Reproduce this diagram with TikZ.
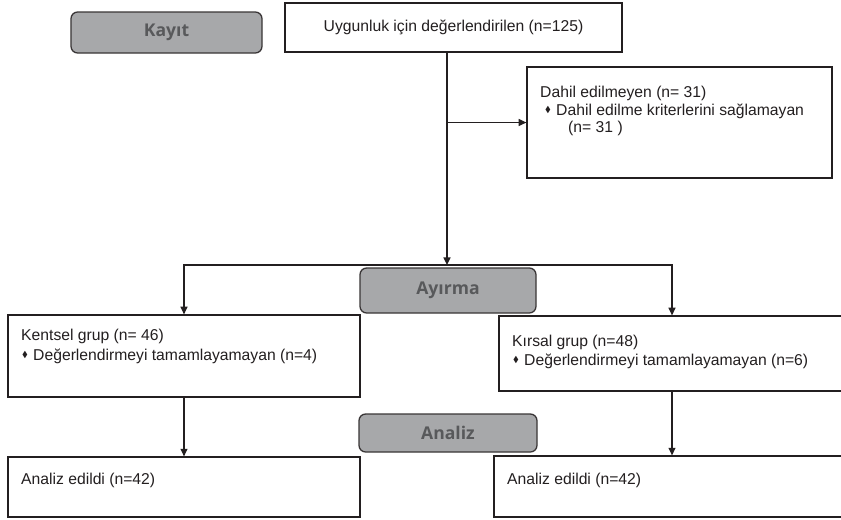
\documentclass[tikz,border=0pt]{standalone}
\usepackage{amssymb}
\usepackage{fontspec}
\setmainfont{Liberation Sans}
\newfontfamily\stagefont{Open Sans}
\usetikzlibrary{arrows.meta}
\usetikzlibrary{positioning}

\definecolor{stagegray}{HTML}{A7A8AA}
\definecolor{stagetext}{HTML}{58595B}
\definecolor{ink}{HTML}{231F20}

\newcommand{\bul}{\makebox[0.33cm][l]{\raisebox{0.25ex}{\scalebox{0.55}{$\blacklozenge$}}}}

\tikzset{
  box/.style={draw=ink, line width=1.1pt, inner sep=0pt, fill=white},
  stage/.style={draw=ink!90, line width=1.1pt, fill=stagegray, rounded corners=0.2cm,
    text=stagetext, font=\stagefont\bfseries\fontsize{15}{17}\selectfont, inner sep=0pt},
  txt/.style={inner sep=0pt, text=ink, font=\fontsize{13.4}{15}\selectfont},
  conn/.style={draw=ink, line width=1.1pt}
}

\begin{document}
\begin{tikzpicture}[x=0.03cm, y=-0.03cm, >={Triangle[length=6.5pt,width=6pt]}]

    \useasboundingbox (0,0) rectangle (841,519);

    % stage labels
    \node[stage, minimum width=5.73cm, minimum height=1.23cm] (kayit) at (166.5,32.5) {Kayıt};
    \node[stage, minimum width=5.28cm, minimum height=1.35cm] (ayirma) at (448,290.5) {Ayırma};
    \node[stage, minimum width=5.34cm, minimum height=1.14cm] (analiz) at (448,433) {Analiz};

    % boxes
    \node[box, txt, draw=ink, minimum width=10.11cm, minimum height=1.47cm] (uyg) at (453.5,27.5) {Uygunluk için değerlendirilen (n=125)};
    \node[box, minimum width=9.15cm, minimum height=3.33cm] (dahil) at (679.5,122.5) {};
    \node[box, minimum width=10.56cm, minimum height=2.46cm] (kentsel) at (184,356) {};
    \node[box, minimum width=10.38cm, minimum height=2.25cm] (kirsal) at (672,353.5) {};
    \node[box, minimum width=10.56cm, minimum height=1.8cm] (an1) at (184,487) {};
    \node[box, minimum width=10.53cm, minimum height=1.83cm] (an2) at (669.5,486.5) {};

    % box texts
    \node[txt, anchor=base west] (dahilA) at (540,97.5) {Dahil edilmeyen (n= 31)};
    \node[txt, anchor=base west] (dahilB) at (545,115) {\bul Dahil edilme kriterlerini sağlamayan};
    \node[txt, anchor=base west] (dahilC) at (568,132.5) {(n= 31 )};

    \node[txt, anchor=base west] (kentselA) at (21,340) {Kentsel grup (n= 46)};
    \node[txt, anchor=base west] (kentselB) at (22,360) {\bul Değerlendirmeyi tamamlayamayan (n=4)};

    \node[txt, anchor=base west] (kirsalA) at (512,346.5) {Kırsal grup (n=48)};
    \node[txt, anchor=base west] (kirsalB) at (513,365) {\bul Değerlendirmeyi tamamlayamayan (n=6)};

    \node[txt, anchor=base west] (an1T) at (21,484.5) {Analiz edildi (n=42)};
    \node[txt, anchor=base west] (an2T) at (507,484) {Analiz edildi (n=42)};

    % connectors
    \coordinate (split) at (447,265);
    \draw[conn, ->] (uyg.south -| split) -- (split);
    \draw[conn, ->] (split |- dahil.west) -- (dahil.west);
    \draw[conn, ->] (split) -| (kentsel.north);
    \draw[conn, ->] (split) -| (kirsal.north);
    \draw[conn, ->] (kentsel.south) -- (an1.north);
    \draw[conn, ->] (kirsal.south) -- (kirsal.south |- an2.north);

\end{tikzpicture}
\end{document}
